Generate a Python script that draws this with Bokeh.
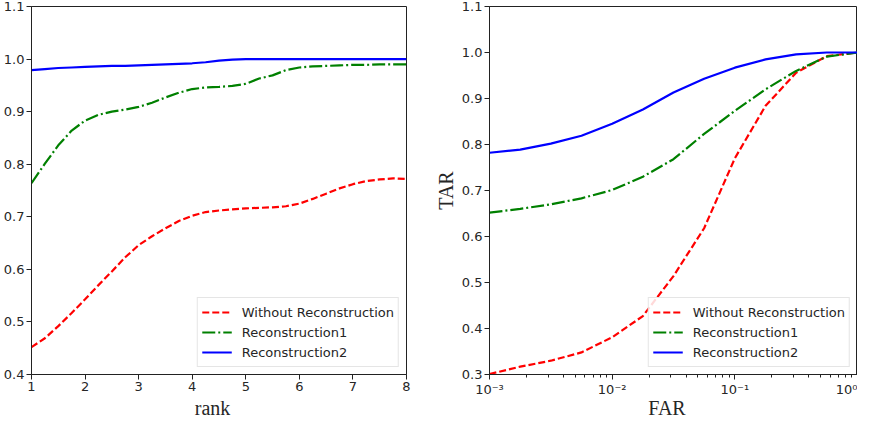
from bokeh.plotting import figure
from bokeh.layouts import row, column
from bokeh.models import FixedTicker, PrintfTickFormatter, CustomJSTickFormatter, Range1d, Legend, LegendItem, Div
from bokeh.embed import file_html
from bokeh.resources import INLINE

# ---- data: left panel (CMC vs rank) ----
rank = [1, 1.25, 1.5, 1.75, 2, 2.25, 2.5, 2.75, 3, 3.25, 3.5, 3.75, 4, 4.25, 4.5,
        4.75, 5, 5.25, 5.5, 5.75, 6, 6.25, 6.5, 6.75, 7, 7.25, 7.5, 7.75, 8]
cmc_without = [0.452, 0.469, 0.492, 0.517, 0.543, 0.570, 0.596, 0.623, 0.646, 0.663, 0.678, 0.692, 0.702, 0.709, 0.712,
               0.714, 0.716, 0.717, 0.718, 0.720, 0.725, 0.734, 0.744, 0.754, 0.762, 0.768, 0.771, 0.773, 0.772]
cmc_recon1 = [0.764, 0.801, 0.836, 0.864, 0.883, 0.894, 0.900, 0.904, 0.909, 0.917, 0.927, 0.936, 0.943, 0.946, 0.947,
              0.949, 0.953, 0.963, 0.969, 0.979, 0.984, 0.986, 0.987, 0.988, 0.989, 0.989, 0.990, 0.990, 0.990]
cmc_recon2 = [0.979, 0.981, 0.983, 0.984, 0.985, 0.986, 0.987, 0.987, 0.988, 0.989, 0.990, 0.991, 0.992, 0.994, 0.997,
              0.999, 1.0, 1.0, 1.0, 1.0, 1.0, 1.0, 1.0, 1.0, 1.0, 1.0, 1.0, 1.0, 1.0]

# ---- data: right panel (ROC, TAR vs FAR) ----
far = [0.001, 0.00178, 0.00316, 0.00562, 0.01, 0.0178, 0.0316, 0.0562, 0.1, 0.178, 0.316, 0.562, 1.0]
tar_without = [0.301, 0.317, 0.330, 0.348, 0.381, 0.427, 0.514, 0.618, 0.770, 0.884, 0.956, 0.992, 1.0]
tar_recon1 = [0.652, 0.660, 0.670, 0.683, 0.701, 0.730, 0.768, 0.823, 0.873, 0.920, 0.960, 0.991, 1.0]
tar_recon2 = [0.782, 0.789, 0.802, 0.819, 0.845, 0.876, 0.913, 0.943, 0.967, 0.985, 0.996, 1.0, 1.0]

series_names = ["Without Reconstruction", "Reconstruction1", "Reconstruction2"]
left_xticks = [1, 2, 3, 4, 5, 6, 7, 8]
left_yticks = [0.4, 0.5, 0.6, 0.7, 0.8, 0.9, 1.0, 1.1]
right_yticks = [0.3, 0.4, 0.5, 0.6, 0.7, 0.8, 0.9, 1.0, 1.1]
right_xticks = [1e-3, 1e-2, 1e-1, 1.0]
right_xminor = [m * 10.0 ** e for e in (-3, -2, -1) for m in range(2, 10)]
left_xlabel = "rank"
right_xlabel = "FAR"
right_ylabel = "TAR"

COLORS = ["#ff0000", "#008000", "#0000ff"]
DASHES = ["7 3", "13 3 2 3", "solid"]
TICK_FONT = "DejaVu Sans"
LABEL_FONT = "Liberation Serif"
AX_COLOR = "#222222"


def style(p):
    p.xgrid.visible = False
    p.ygrid.visible = False
    p.outline_line_color = AX_COLOR
    p.outline_line_width = 1
    p.background_fill_color = "white"
    p.border_fill_color = "white"
    for ax in (p.xaxis[0], p.yaxis[0]):
        ax.axis_line_color = AX_COLOR
        ax.major_tick_line_color = AX_COLOR
        ax.minor_tick_line_color = AX_COLOR
        ax.major_tick_out = 5
        ax.major_tick_in = 0
        ax.minor_tick_out = 3
        ax.minor_tick_in = 0
        ax.major_label_text_font = TICK_FONT
        ax.major_label_text_font_size = "13px"
        ax.major_label_text_color = "#262626"
        ax.axis_label_text_font = LABEL_FONT
        ax.axis_label_text_font_size = "20px"
        ax.axis_label_text_font_style = "normal"
        ax.axis_label_text_color = "#262626"
        ax.major_label_standoff = 2
        ax.axis_label_standoff = 2


def label_div(text, width, shift):
    html = ('<div style="width:%dpx;text-align:center;padding-left:%dpx;box-sizing:border-box;'
            'font-family:\'%s\';font-size:20px;line-height:16px;color:#262626;white-space:nowrap">%s</div>'
            % (width, shift, LABEL_FONT, text))
    return Div(text=html, width=width, height=16, margin=0)


def add_lines(p, xs, ys_list):
    items = []
    for name, ys, c, d in zip(series_names, ys_list, COLORS, DASHES):
        r = p.line(xs, ys, line_color=c, line_width=2.2, line_dash=d)
        items.append(LegendItem(label=name, renderers=[r]))
    leg = Legend(items=items, location="bottom_right")
    leg.margin = 7
    leg.padding = 4
    leg.spacing = 0
    leg.label_height = 20
    leg.glyph_height = 20
    leg.glyph_width = 30
    leg.label_standoff = 10
    leg.label_text_font = TICK_FONT
    leg.label_text_font_size = "13px"
    leg.label_text_color = "#262626"
    leg.border_line_color = "#cccccc"
    leg.border_line_width = 1
    leg.background_fill_alpha = 0.85
    p.add_layout(leg, "center")


H = 400
W1 = 420
W2 = 437

p1 = figure(width=W1, height=H, output_backend="svg", toolbar_location=None,
            x_range=Range1d(1, 8), y_range=Range1d(0.4, 1.1),
            min_border_left=27, min_border_right=14, min_border_top=6, min_border_bottom=26)
style(p1)
p1.xaxis.ticker = FixedTicker(ticks=left_xticks)
p1.yaxis.ticker = FixedTicker(ticks=left_yticks)
p1.yaxis.formatter = PrintfTickFormatter(format="%.1f")
add_lines(p1, rank, [cmc_without, cmc_recon1, cmc_recon2])

p2 = figure(width=W2, height=H, output_backend="svg", toolbar_location=None,
            x_axis_type="log", x_range=Range1d(1e-3, 1.0), y_range=Range1d(0.3, 1.1),
            min_border_left=69, min_border_right=0, min_border_top=6, min_border_bottom=26)
style(p2)
p2.xaxis.ticker = FixedTicker(ticks=right_xticks, minor_ticks=right_xminor)
p2.xaxis.formatter = CustomJSTickFormatter(code="""
const e = Math.round(Math.log10(tick));
const sup = {'-': '\u207b', '0': '\u2070', '1': '\u00b9', '2': '\u00b2', '3': '\u00b3'};
return '10' + String(e).split('').map(c => sup[c]).join('');
""")
p2.yaxis.ticker = FixedTicker(ticks=right_yticks)
p2.yaxis.formatter = PrintfTickFormatter(format="%.1f")
p2.yaxis.axis_label = right_ylabel
add_lines(p2, far, [tar_without, tar_recon1, tar_recon2])

d1 = label_div(left_xlabel, W1, 5)
d2 = label_div(right_xlabel, W2, 57)

layout = column(row(p1, p2, spacing=0), row(d1, d2, spacing=0), spacing=0)
open("out.html", "w").write(file_html(layout, INLINE))
